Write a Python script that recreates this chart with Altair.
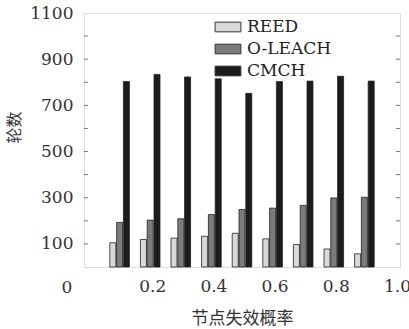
import altair as alt
import pandas as pd

probs = [0.1, 0.2, 0.3, 0.4, 0.5, 0.6, 0.7, 0.8, 0.9]
series = ["REED", "O-LEACH", "CMCH"]
reed = [105, 119, 125, 133, 146, 122, 97, 78, 57]
oleach = [193, 203, 209, 227, 249, 255, 267, 299, 302]
cmch = [803, 834, 823, 815, 752, 803, 805, 826, 805]
colors = ["#d9d9d9", "#7b7b7b", "#1c1c1c"]
y_tick_all = [100, 200, 300, 400, 500, 600, 700, 800, 900, 1000]
y_labels = [100, 300, 500, 700, 900, 1100]
x_labels = [0.2, 0.4, 0.6, 0.8, 1.0]

rows = []
for i, p in enumerate(probs):
    for k, (name, vals) in enumerate(zip(series, [reed, oleach, cmch])):
        rows.append({"p": p, "series": name, "idx": k, "value": vals[i]})
df = pd.DataFrame(rows)
ticks = pd.DataFrame({"t": y_tick_all})

W, H = 316, 254
serif = "DejaVu Serif"
cjk = "Noto Sans CJK SC"

xscale = alt.Scale(domain=[0, 1.0], nice=False, zero=False)
yscale = alt.Scale(domain=[0, 1100], nice=False)

bars = alt.Chart(df).transform_calculate(
    xpos="datum.p + (datum.idx - 1) * 0.0222"
).mark_bar(size=6, stroke="#222", strokeWidth=0.8).encode(
    x=alt.X("xpos:Q", scale=xscale,
            axis=alt.Axis(values=x_labels, format=".1f", title="节点失效概率",
                          titleFont=cjk, titleFontSize=17, titleFontWeight="normal",
                          titleColor="#333", titlePadding=16,
                          labelFont=serif, labelFontSize=17, labelColor="#333",
                          labelPadding=11, labelOffset=2, ticks=False, domain=False,
                          grid=False, labelFlush=False)),
    y=alt.Y("value:Q", scale=yscale,
            axis=alt.Axis(values=y_labels, format="d", title="轮数", titleFont=cjk,
                          titleFontSize=16, titleFontWeight="normal", titleColor="#333",
                          titleX=-62, titleY=114, titleAngle=-90,
                          labelFont=serif, labelFontSize=17, labelColor="#333",
                          labelPadding=11, ticks=False, domain=False, grid=False)),
    color=alt.Color("series:N", sort=series,
                    scale=alt.Scale(domain=series, range=colors),
                    legend=alt.Legend(
                        title=None, orient="none", legendX=135, legendY=5,
                        symbolType="M-1.6,-0.6L1.6,-0.6L1.6,0.6L-1.6,0.6Z",
                        symbolSize=260, symbolStrokeColor="#333", symbolStrokeWidth=1,
                        labelFont=serif, labelFontSize=17, labelColor="#222",
                        labelOffset=10, rowPadding=5, padding=0)),
)

left_ticks = alt.Chart(ticks).mark_rule(color="#777", strokeWidth=1).encode(
    y=alt.Y("t:Q", scale=yscale), x=alt.value(0), x2=alt.value(4)
)
right_ticks = alt.Chart(ticks).mark_rule(color="#777", strokeWidth=1).encode(
    y=alt.Y("t:Q", scale=yscale), x=alt.value(W - 4), x2=alt.value(W)
)
zero_label = alt.Chart(pd.DataFrame({"s": ["0"]})).mark_text(
    font=serif, fontSize=17, color="#333", align="center", baseline="middle"
).encode(text="s:N", x=alt.value(-17), y=alt.value(H + 21))

chart = alt.layer(bars, left_ticks, right_ticks, zero_label).properties(
    width=W, height=H, padding={"left": 84, "top": 13, "right": 9, "bottom": 62},
    autosize=alt.AutoSizeParams(type="none")
).configure_view(stroke="#888", strokeWidth=1.2).configure(background="white")

chart.save("out.html", embed_options={"renderer": "svg", "actions": False})
